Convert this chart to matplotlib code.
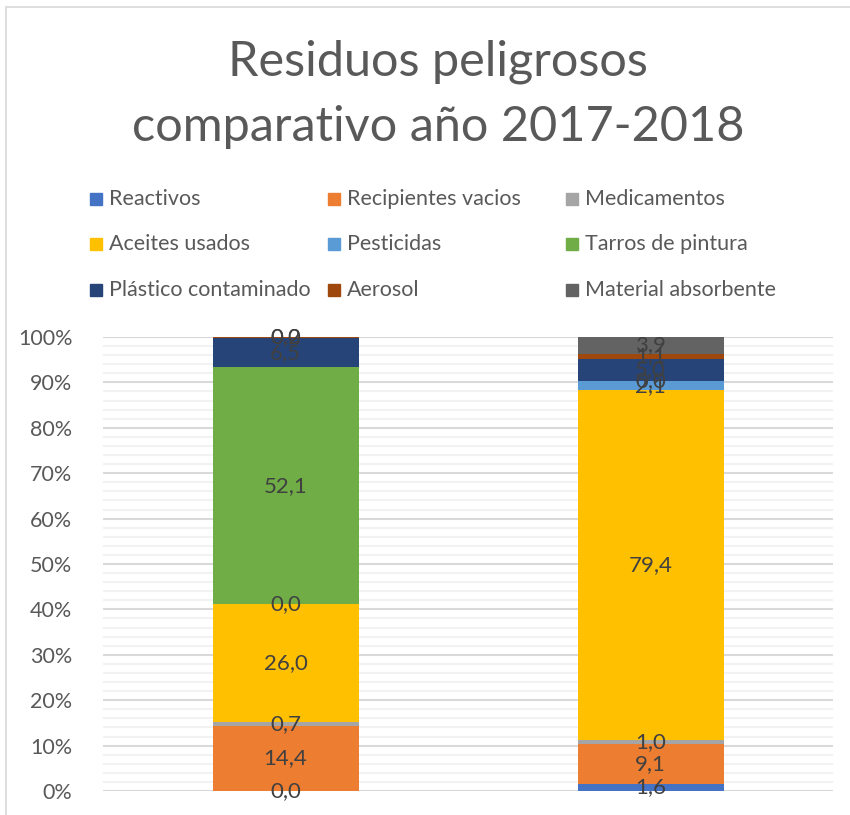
import matplotlib
matplotlib.use("Agg")
import matplotlib.pyplot as plt
import numpy as np
from matplotlib.patches import Rectangle

plt.rcParams['font.family'] = ['Lato', 'DejaVu Sans']

# data (raw values, chart is 100% stacked)
years = ["2017", "2018"]
categories = ["Reactivos", "Recipientes vacios", "Medicamentos",
              "Aceites usados", "Pesticidas", "Tarros de pintura",
              "Plástico contaminado", "Aerosol", "Material absorbente"]
values_2017 = [0.0, 14.4, 0.7, 26.0, 0.0, 52.1, 6.5, 0.2, 0.0]
values_2018 = [1.6, 9.1, 1.0, 79.4, 2.1, 0.0, 5.0, 1.1, 3.9]
colors = ["#4472C4", "#ED7D31", "#A5A5A5", "#FFC000", "#5B9BD5",
          "#70AD47", "#264478", "#9E480E", "#636363"]

W, H = 850, 815
fig = plt.figure(figsize=(8.5, 8.15), dpi=100)
ax = fig.add_axes([103 / W, 1 - 791 / H, 730 / W, 454 / H])

data = np.array([values_2017, values_2018])
pct = data / data.sum(axis=1, keepdims=True) * 100
x = np.arange(len(years))
bottom = np.zeros(len(years))
for i, cat in enumerate(categories):
    ax.bar(x, pct[:, i], 0.4, bottom=bottom, color=colors[i], zorder=3)
    for j in range(len(years)):
        lab = ("%.1f" % data[j, i]).replace(".", ",")
        ax.text(x[j], bottom[j] + pct[j, i] / 2, lab, ha="center", va="center",
                fontsize=16, color="#404040", zorder=5)
    bottom += pct[:, i]

ax.set_xlim(-0.5, 1.5)
ax.set_ylim(0, 100)
ax.set_yticks(np.arange(0, 101, 10))
ax.set_yticklabels(["%d%%" % v for v in range(0, 101, 10)])
ax.set_yticks(np.arange(0, 101, 2), minor=True)
ax.grid(axis="y", which="major", color="#D9D9D9", lw=1.5, zorder=0)
ax.grid(axis="y", which="minor", color="#F2F2F2", lw=1.5, zorder=0)
ax.tick_params(axis="y", which="both", length=0, labelsize=15.5, labelcolor="#595959", pad=22)
ax.set_xticks([])
for s in ax.spines.values():
    s.set_visible(False)

# title
fig.text(438 / W, 1 - 62 / H, "Residuos peligrosos", ha="center", va="center",
         fontsize=35, color="#595959")
fig.text(438 / W, 1 - 127 / H, "comparativo año 2017-2018", ha="center", va="center",
         fontsize=35, color="#595959")

# legend, row-major like Excel
col_x = [90, 328, 566]
row_y = [199, 244, 290]
for k, cat in enumerate(categories):
    cx = col_x[k % 3]
    cy = row_y[k // 3]
    fig.patches.append(Rectangle((cx / W, 1 - (cy + 6) / H), 12 / W, 12 / H,
                                 transform=fig.transFigure, color=colors[k]))
    fig.text((cx + 19) / W, 1 - cy / H, cat, ha="left", va="center",
             fontsize=15.5, color="#595959")

# chart border
fig.patches.append(Rectangle((6 / W, -0.05), 1.0, 1.05 - 7 / H, transform=fig.transFigure,
                             fill=False, edgecolor="#D9D9D9", lw=1.2))

fig.savefig("out.png", dpi=100)
